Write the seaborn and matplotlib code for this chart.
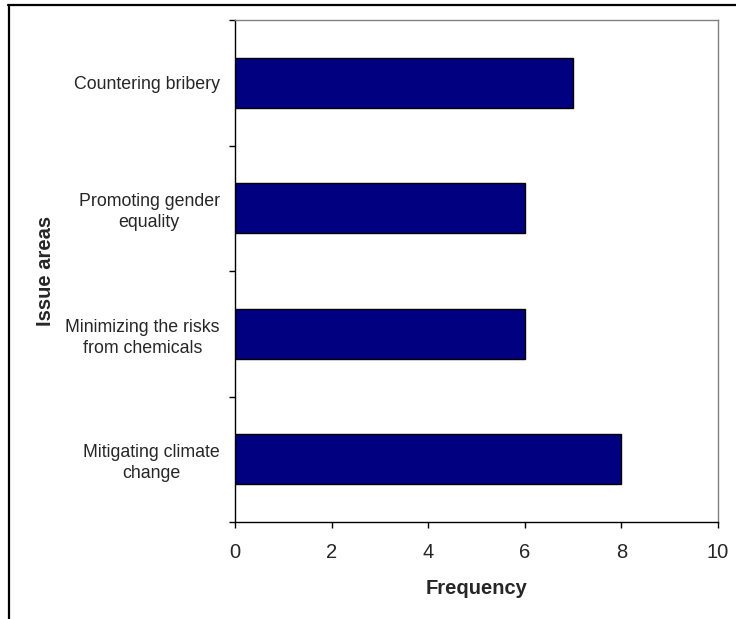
import matplotlib
matplotlib.use("Agg")
import matplotlib.pyplot as plt
from matplotlib.lines import Line2D
from matplotlib.ticker import FixedLocator
import seaborn as sns
import pandas as pd

# Issue areas and how often each one came up
issue_areas = [
    "Countering bribery",
    "Promoting gender\nequality",
    "Minimizing the risks\nfrom chemicals",
    "Mitigating climate\nchange",
]
frequency = [7, 6, 6, 8]
x_ticks = [0, 2, 4, 6, 8, 10]

df = pd.DataFrame({"Issue area": issue_areas, "Frequency": frequency})

sns.set_style("white")
plt.rcParams["font.family"] = ["Liberation Sans", "DejaVu Sans"]

W, H = 736, 619
fig = plt.figure(figsize=(W / 100, H / 100), dpi=100)
ax = fig.add_axes([235 / W, 1 - 522 / H, (718 - 235) / W, (522 - 20) / H])

sns.barplot(data=df, x="Frequency", y="Issue area", order=issue_areas,
            orient="h", width=0.4, color="#000080", saturation=1,
            edgecolor="black", linewidth=1.0, ax=ax)

ax.set_xlim(0, 10)
ax.set_ylim(len(issue_areas) - 0.5, -0.5)
ax.set_xticks(x_ticks)
ax.set_xticklabels([str(v) for v in x_ticks], fontsize=14.5)

# category labels sit between tick marks placed on the band boundaries
ax.yaxis.set_minor_locator(FixedLocator([i - 0.5 for i in range(len(issue_areas) + 1)]))
ax.tick_params(axis="y", which="major", length=0, pad=11, labelsize=12.8)
ax.tick_params(axis="y", which="minor", length=4, width=1, color="black", direction="out", left=True)
ax.tick_params(axis="x", which="major", length=4, width=1, color="black", direction="out",
               bottom=True, pad=11)
for t in ax.get_yticklabels():
    t.set_multialignment("center")
    t.set_linespacing(1.3)

ax.set_xlabel("Frequency", fontsize=14.5, fontweight="bold", labelpad=12)
ax.set_ylabel("Issue areas", fontsize=14.5, fontweight="bold", labelpad=0)
ax.yaxis.set_label_coords((55 - 235) / (718 - 235), 0.5)

for side in ["left", "bottom"]:
    ax.spines[side].set_color("black")
    ax.spines[side].set_linewidth(1.0)
for side in ["top", "right"]:
    ax.spines[side].set_visible(True)
    ax.spines[side].set_color("#808080")
    ax.spines[side].set_linewidth(1.0)
ax.grid(False)

# outer chart frame (top and left edges)
fig.add_artist(Line2D([8 / W, 1], [1 - 4.5 / H, 1 - 4.5 / H], color="black", linewidth=1.6,
                      transform=fig.transFigure))
fig.add_artist(Line2D([8.5 / W, 8.5 / W], [0, 1 - 4.5 / H], color="black", linewidth=1.6,
                      transform=fig.transFigure))

fig.savefig("out.png", dpi=100)
